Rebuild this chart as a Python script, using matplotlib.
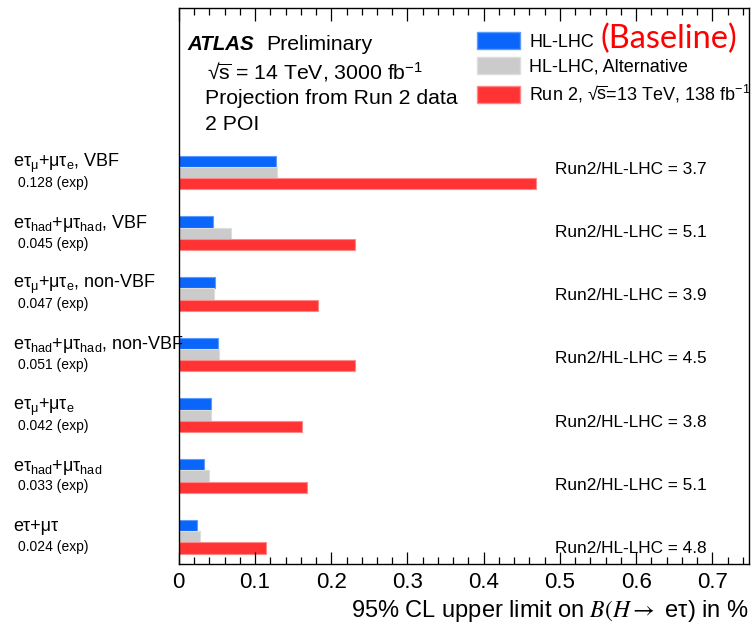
import numpy as np
import matplotlib
matplotlib.use("Agg")
import matplotlib.pyplot as plt
from matplotlib.patches import Patch
from matplotlib.ticker import MultipleLocator, FuncFormatter

plt.rcParams["font.family"] = ["Liberation Sans", "DejaVu Sans"]
plt.rcParams["mathtext.fontset"] = "custom"
plt.rcParams["mathtext.rm"] = "Liberation Sans"
plt.rcParams["mathtext.it"] = "Liberation Sans:italic"
plt.rcParams["mathtext.bf"] = "Liberation Sans:bold"

# channels, top to bottom
channels = [
    r"eτ$_{\mathrm{μ}}$+μτ$_{\mathrm{e}}$, VBF",
    r"eτ$_{\mathrm{had}}$+μτ$_{\mathrm{had}}$, VBF",
    r"eτ$_{\mathrm{μ}}$+μτ$_{\mathrm{e}}$, non-VBF",
    r"eτ$_{\mathrm{had}}$+μτ$_{\mathrm{had}}$, non-VBF",
    r"eτ$_{\mathrm{μ}}$+μτ$_{\mathrm{e}}$",
    r"eτ$_{\mathrm{had}}$+μτ$_{\mathrm{had}}$",
    r"eτ+μτ",
]
hl_lhc = [0.128, 0.045, 0.047, 0.051, 0.042, 0.033, 0.024]
hl_lhc_alt = [0.129, 0.069, 0.046, 0.053, 0.042, 0.040, 0.028]
run2 = [0.469, 0.231, 0.183, 0.231, 0.161, 0.168, 0.114]
ratios = [3.7, 5.1, 3.9, 4.5, 3.8, 5.1, 4.8]

c_blue = "#0a66fa"
c_gray = "#cbcbcb"
c_red = "#ff3333"

W, H = 751, 625
fig = plt.figure(figsize=(W / 100, H / 100), dpi=100)
ax = fig.add_axes([178.8 / W, 1 - 564 / H, (749 - 178.8) / W, (564 - 8) / H])

n = len(channels)
ypos = np.arange(n)[::-1].astype(float)
bh = 0.185

ax.barh(ypos + bh, hl_lhc, height=bh, color=c_blue, edgecolor="#5c9aff", linewidth=0.8)
ax.barh(ypos, hl_lhc_alt, height=bh, color=c_gray, edgecolor="#dddddd", linewidth=0.8)
ax.barh(ypos - bh, run2, height=bh, color=c_red, edgecolor="#ff8888", linewidth=0.8)

ax.set_xlim(0, 0.748)
ax.set_ylim(-0.45, 8.71)

ax.xaxis.set_major_locator(MultipleLocator(0.1))
ax.xaxis.set_minor_locator(MultipleLocator(0.02))
ax.xaxis.set_major_formatter(FuncFormatter(lambda v, p: "0" if abs(v) < 1e-9 else f"{v:.1f}"))
ax.tick_params(axis="x", which="both", direction="in", top=True, labelsize=16, pad=6)
ax.tick_params(axis="x", which="major", length=9, width=0.9)
ax.tick_params(axis="x", which="minor", length=5, width=0.9)
ax.set_yticks([])
for s in ax.spines.values():
    s.set_linewidth(1.0)

ax.set_xlabel(r"95% CL upper limit on $B(H \rightarrow$ eτ) in %", fontsize=17,
              math_fontfamily="stix")
ax.xaxis.set_label_coords(1.0, -(611 - 564) / 556)
ax.xaxis.label.set_ha("right")
ax.xaxis.label.set_va("center")

# channel names and expected limits on the left
ytr = ax.get_yaxis_transform()
for y, name, v in zip(ypos, channels, hl_lhc):
    ax.text(-0.291, y + 0.09, name, transform=ytr, ha="left", va="baseline",
            fontsize=13, clip_on=False)
    ax.text(-0.282, y - 0.17, f"{v:.3f} (exp)", transform=ytr, ha="left",
            va="center", fontsize=10, clip_on=False)

# ratio annotations
for i, r in enumerate(ratios):
    ax.text(0.66, 0.710 - 0.1137 * i, f"Run2/HL-LHC = {r}", transform=ax.transAxes,
            ha="left", va="center", fontsize=12.4)

# header
def px(x, y):
    return x / W, 1 - y / H

sqrt_s = r"√$\overline{\mathrm{s}}$"
fig.text(*px(187, 45), "ATLAS", fontsize=14.8, fontweight="bold", fontstyle="italic",
         va="center")
fig.text(*px(266, 45), "Preliminary", fontsize=15.3, va="center")
fig.text(*px(207, 72), sqrt_s + r" = 14 TeV, 3000 fb$^{-1}$", fontsize=15.3,
         va="center")
fig.text(*px(205, 99), "Projection from Run 2 data", fontsize=15.3, va="center")
fig.text(*px(205, 125), "2 POI", fontsize=15.3, va="center")

handles = [
    Patch(facecolor=c_blue, edgecolor="#5c9aff"),
    Patch(facecolor=c_gray, edgecolor="#dddddd"),
    Patch(facecolor=c_red, edgecolor="#ff8888"),
]
labels = ["HL-LHC", "HL-LHC, Alternative",
          "Run 2, " + sqrt_s + r"=13 TeV, 138 fb$^{-1}$"]
fig.legend(handles, labels, loc="upper left", bbox_to_anchor=px(477, 32),
           frameon=False, fontsize=13, handlelength=2.4, handleheight=1.05,
           handletextpad=0.5, labelspacing=0.38, borderpad=0, borderaxespad=0)

fig.text(*px(601, 39), "(Baseline)", fontsize=23.4, color="#ff0000", va="center",
         family=["Lato", "DejaVu Sans"])

fig.savefig("out.png", dpi=100)
